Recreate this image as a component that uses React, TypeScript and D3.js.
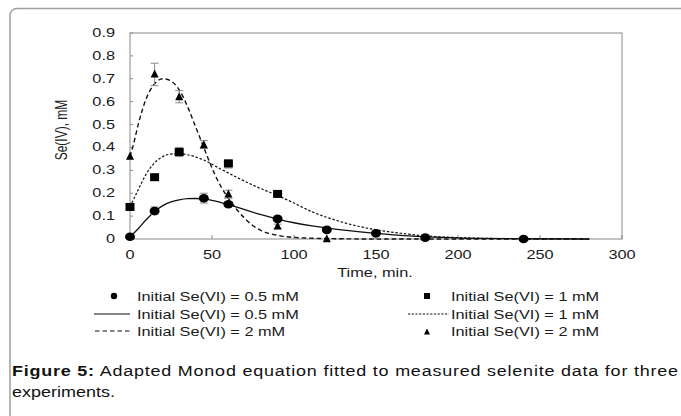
import * as d3 from 'd3';
import React from 'react';

// axis ticks
const xTicks = [0, 50, 100, 150, 200, 250, 300];
const yTicks = [0, 0.1, 0.2, 0.3, 0.4, 0.5, 0.6, 0.7, 0.8, 0.9];

// measured points [time, Se(IV)]
const obsHalf = [[0, 0.01], [15, 0.122], [45, 0.178], [60, 0.152], [90, 0.088], [120, 0.04], [150, 0.025], [180, 0.006], [240, 0]];
const obsOne = [[0, 0.14], [15, 0.27], [30, 0.38], [60, 0.33], [90, 0.197]];
const obsTwo = [[0, 0.36], [15, 0.72], [30, 0.62], [45, 0.41], [60, 0.195], [90, 0.055], [120, 0]];

// error bars [time, low, high]
const errHalf = [[15, 0.108, 0.14], [45, 0.157, 0.2], [60, 0.142, 0.16], [90, 0.08, 0.096], [150, 0.004, 0.03]];
const errOne = [[30, 0.36, 0.4], [60, 0.31, 0.346], [90, 0.19, 0.21]];
const errTwo = [[15, 0.67, 0.768], [30, 0.595, 0.648], [45, 0.395, 0.43], [60, 0.178, 0.213], [90, 0.045, 0.065]];

// fitted curves
const fitHalf = [[0, 0.01], [5, 0.045], [10, 0.085], [15, 0.12], [20, 0.146], [25, 0.162], [30, 0.171], [35, 0.176], [40, 0.177], [45, 0.175], [50, 0.169], [60, 0.15], [70, 0.128], [80, 0.106], [90, 0.087], [100, 0.071], [110, 0.058], [125, 0.043], [145, 0.028], [165, 0.016], [185, 0.008], [210, 0.003], [240, 0.001], [280, 0]];
const fitOne = [[0, 0.14], [5, 0.215], [10, 0.285], [15, 0.333], [20, 0.36], [25, 0.371], [30, 0.373], [35, 0.368], [45, 0.345], [55, 0.307], [65, 0.27], [75, 0.235], [90, 0.19], [100, 0.157], [110, 0.122], [125, 0.083], [145, 0.047], [165, 0.025], [185, 0.011], [205, 0.005], [240, 0.001], [280, 0]];
const fitTwo = [[0, 0.36], [2, 0.41], [5, 0.5], [10, 0.615], [15, 0.678], [20, 0.7], [25, 0.69], [30, 0.652], [35, 0.58], [40, 0.49], [45, 0.4], [50, 0.31], [55, 0.235], [60, 0.178], [65, 0.13], [70, 0.09], [75, 0.058], [80, 0.037], [90, 0.016], [100, 0.007], [120, 0.002], [150, 0], [280, 0]];

const legendLeft = ['Initial Se(VI) = 0.5 mM', 'Initial Se(VI) = 0.5 mM', 'Initial Se(VI) = 2 mM'];
const legendRight = ['Initial Se(VI) = 1 mM', 'Initial Se(VI) = 1 mM', 'Initial Se(VI) = 2 mM'];

const SX = 1.36; // the original figure is stretched sideways
const FONT = 'Liberation Sans, Arial, sans-serif';
const GREY = '#8a8a8a';

function SText({ x, y, size, anchor = 'start', weight = 'normal', rotate = false, sx = SX, children, fill = '#1a1a1a' }: any) {
  const t = rotate ? `translate(${x},${y}) scale(${sx},1) rotate(-90)` : `translate(${x},${y}) scale(${sx},1)`;
  return (
    <text transform={t} fontFamily={FONT} fontSize={size} textAnchor={anchor} fontWeight={weight} fill={fill}>
      {children}
    </text>
  );
}

const tri = (cx: number, cy: number, s: number) =>
  `M${cx},${cy - s * 0.6} L${cx + s / 2},${cy + s * 0.4} L${cx - s / 2},${cy + s * 0.4} Z`;

export default function App() {
  const x = d3.scaleLinear().domain([0, 300]).range([130, 622]);
  const y = d3.scaleLinear().domain([0, 0.9]).range([239, 33]);

  const line = d3.line<number[]>()
    .x(d => x(d[0]))
    .y(d => y(d[1]))
    .curve(d3.curveMonotoneX);

  const errBars = (rows: number[][], key: string) =>
    rows.map((r, i) => (
      <g key={key + i} stroke={GREY} strokeWidth={1}>
        <line x1={x(r[0])} x2={x(r[0])} y1={y(r[1])} y2={y(r[2])} />
        <line x1={x(r[0]) - 4} x2={x(r[0]) + 4} y1={y(r[1])} y2={y(r[1])} />
        <line x1={x(r[0]) - 4} x2={x(r[0]) + 4} y1={y(r[2])} y2={y(r[2])} />
      </g>
    ));

  const rowY = [296, 314, 331];
  const capSX = 1.24;

  return (
    <svg width={681} height={416} style={{ position: 'absolute', left: 0, top: 0 }}>
      <rect x={0} y={0} width={681} height={416} fill="#fff" />
      {/* outer frame */}
      <rect x={10} y={8.5} width={700} height={440} rx={7} fill="none" stroke="#a0a0a0" strokeWidth={1.5} />

      {/* plot frame */}
      <rect x={130} y={33} width={492} height={206} fill="none" stroke={GREY} strokeWidth={1} />

      {/* ticks */}
      {xTicks.map(t => (
        <g key={'xt' + t}>
          <line x1={x(t)} x2={x(t)} y1={239} y2={235} stroke={GREY} />
          <SText x={x(t)} y={259} size={12} anchor="middle">{String(t)}</SText>
        </g>
      ))}
      {yTicks.map(t => (
        <g key={'yt' + t}>
          <line x1={130} x2={133} y1={y(t)} y2={y(t)} stroke={GREY} />
          <SText x={115} y={y(t) + 4} size={12} anchor="end">{String(+t.toFixed(1))}</SText>
        </g>
      ))}

      <SText x={375} y={277} size={12} anchor="middle">Time, min.</SText>
      <SText x={67} y={130} size={12} anchor="middle" rotate>Se(IV), mM</SText>

      {/* fitted curves */}
      <path d={line(fitHalf as any) || ''} fill="none" stroke="#111" strokeWidth={1.3} />
      <path d={line(fitOne as any) || ''} fill="none" stroke="#111" strokeWidth={1.2} strokeDasharray="2.5,1.8" />
      <path d={line(fitTwo as any) || ''} fill="none" stroke="#111" strokeWidth={1.4} strokeDasharray="4.5,3" />

      {/* error bars */}
      {errBars(errHalf, 'eh')}
      {errBars(errOne, 'eo')}
      {errBars(errTwo, 'et')}

      {/* points */}
      {obsHalf.map((d, i) => (
        <ellipse key={'ph' + i} cx={x(d[0])} cy={y(d[1])} rx={5} ry={4.3} fill="#000" />
      ))}
      {obsOne.map((d, i) => (
        <rect key={'po' + i} x={x(d[0]) - 4.5} y={y(d[1]) - 4} width={9} height={8} fill="#000" />
      ))}
      {obsTwo.map((d, i) => (
        <path key={'pt' + i} d={tri(x(d[0]), y(d[1]), 8)} fill="#000" />
      ))}

      {/* legend */}
      <circle cx={114} cy={rowY[0]} r={3.2} fill="#000" />
      <line x1={94} x2={130} y1={rowY[1]} y2={rowY[1]} stroke="#111" strokeWidth={1.2} />
      <line x1={95} x2={130} y1={rowY[2]} y2={rowY[2]} stroke="#111" strokeWidth={1.2} strokeDasharray="4.5,3" />
      {legendLeft.map((s, i) => (
        <SText key={'ll' + i} x={137} y={rowY[i] + 4.5} size={12}>{s}</SText>
      ))}
      <rect x={424} y={rowY[0] - 3} width={6} height={6} fill="#000" />
      <line x1={408} x2={449} y1={rowY[1]} y2={rowY[1]} stroke="#111" strokeWidth={1} strokeDasharray="2.2,1.5" />
      <path d={tri(427, rowY[2] + 1, 6)} fill="#000" />
      {legendRight.map((s, i) => (
        <SText key={'lr' + i} x={451} y={rowY[i] + 4.5} size={12}>{s}</SText>
      ))}

      {/* caption */}
      <text transform={`translate(12,376) scale(${capSX},1)`} fontFamily={FONT} fontSize={14.5} fill="#111"
        textLength={666 / capSX} lengthAdjust="spacing">
        <tspan fontWeight="bold">Figure 5:</tspan> Adapted Monod equation fitted to measured selenite data for three
      </text>
      <SText x={12} y={397} size={14.5} sx={capSX} fill="#111">experiments.</SText>
    </svg>
  );
}
